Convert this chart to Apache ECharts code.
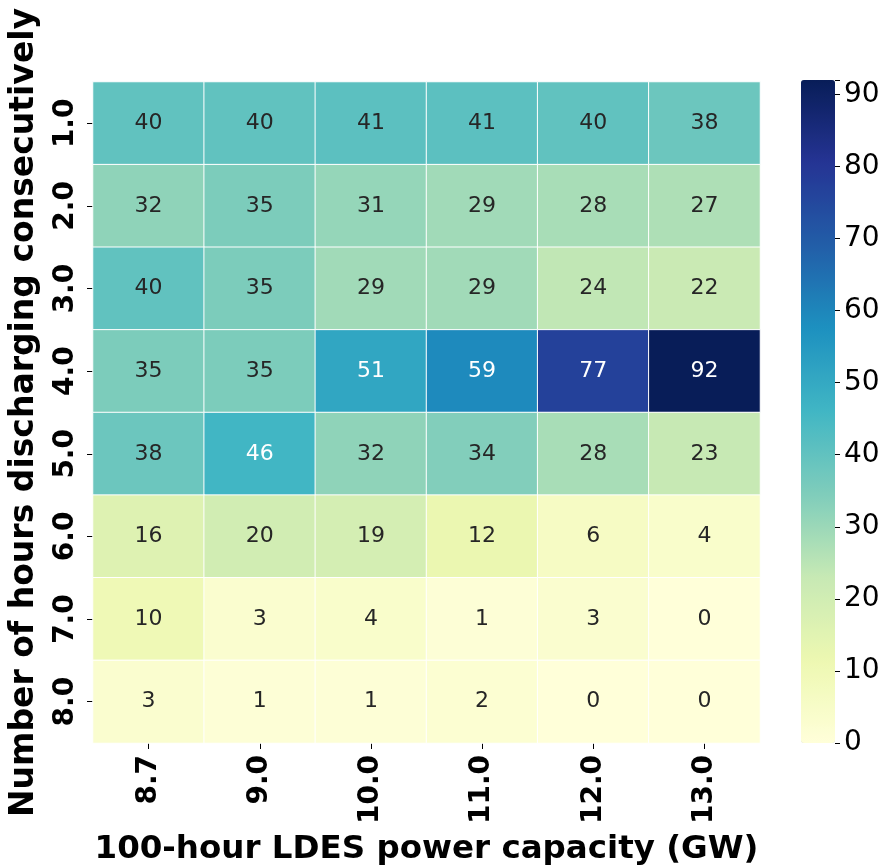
<!DOCTYPE html>
<html><head><meta charset="utf-8">
<script src="https://cdn.jsdelivr.net/npm/echarts@6/dist/echarts.min.js"></script>
<style>html,body{margin:0;padding:0;background:#fff}#c{width:884px;height:866px}</style>
</head><body><div id="c"></div>
<script>
const xCategories = ['8.7','9.0','10.0','11.0','12.0','13.0'];
const yCategories = ['1.0','2.0','3.0','4.0','5.0','6.0','7.0','8.0'];
const row1 = [40,40,41,41,40,38];
const row2 = [32,35,31,29,28,27];
const row3 = [40,35,29,29,24,22];
const row4 = [35,35,51,59,77,92];
const row5 = [38,46,32,34,28,23];
const row6 = [16,20,19,12,6,4];
const row7 = [10,3,4,1,3,0];
const row8 = [3,1,1,2,0,0];
const rows = [row1,row2,row3,row4,row5,row6,row7,row8];
const colorTicks = [0,10,20,30,40,50,60,70,80,90];
const vmin = 0, vmax = 92;
const ylgnbu = ['#ffffd9','#edf8b1','#c7e9b4','#7fcdbb','#41b6c4','#1d91c0','#225ea8','#253494','#081d58'];

const data = [];
rows.forEach((r, yi) => r.forEach((v, xi) => data.push({
  value: [xi, yi, v],
  label: {color: v >= 45 ? '#ffffff' : '#262626'}
})));

const FONT = 'DejaVu Sans';
const chart = echarts.init(document.getElementById('c'));
chart.setOption({
  animation: false,
  textStyle: {fontFamily: FONT},
  grid: [
    {left: 93, top: 82, width: 667, height: 661, containLabel: false, outerBoundsMode: 'none'},
    {left: 801, top: 80, width: 34, height: 663, containLabel: false, outerBoundsMode: 'none'}
  ],
  xAxis: [{
    type: 'category', data: xCategories, gridIndex: 0,
    axisLine: {show: false},
    axisTick: {show: true, alignWithLabel: true, length: 6, lineStyle: {color: '#000'}},
    axisLabel: {rotate: 90, fontSize: 28, fontWeight: 'bold', color: '#000', fontFamily: FONT, margin: 12},
    splitLine: {show: false},
    name: '100-hour LDES power capacity (GW)', nameLocation: 'middle', nameGap: 90,
    nameTextStyle: {fontSize: 32.5, fontWeight: 'bold', color: '#000', fontFamily: FONT}
  }, {
    type: 'category', data: [''], gridIndex: 1, show: false
  }],
  yAxis: [{
    type: 'category', data: yCategories, inverse: true, gridIndex: 0,
    axisLine: {show: false},
    axisTick: {show: true, alignWithLabel: true, length: 6, lineStyle: {color: '#000'}},
    axisLabel: {rotate: 90, fontSize: 28, fontWeight: 'bold', color: '#000', fontFamily: FONT, margin: 13},
    splitLine: {show: false},
    name: 'Number of hours discharging consecutively', nameLocation: 'middle', nameGap: 52,
    nameTextStyle: {fontSize: 33, fontWeight: 'bold', color: '#000', fontFamily: FONT}
  }, {
    type: 'value', gridIndex: 1, position: 'right', min: vmin, max: vmax, interval: 10,
    axisLine: {show: false},
    axisTick: {show: true, length: 5, lineStyle: {color: '#000'}},
    axisLabel: {fontSize: 28, color: '#000', fontFamily: FONT, margin: 9,
      formatter: v => colorTicks.includes(v) ? String(v) : ''},
    splitLine: {show: false}
  }],
  visualMap: {
    type: 'continuous', min: vmin, max: vmax, seriesIndex: 0,
    calculable: false, realtime: false, text: null, showLabel: false, hoverLink: false,
    left: 801, top: 80, itemWidth: 34, itemHeight: 663, padding: 0,
    inRange: {color: ylgnbu}
  },
  series: [{
    type: 'heatmap', xAxisIndex: 0, yAxisIndex: 0, data: data,
    itemStyle: {borderColor: '#fff', borderWidth: 1},
    label: {
      show: true, fontSize: 22, fontFamily: FONT,
      formatter: p => String(p.value[2])
    },
    emphasis: {disabled: true}
  }, {
    type: 'scatter', xAxisIndex: 1, yAxisIndex: 1, data: [], silent: true
  }]
});
</script></body></html>
